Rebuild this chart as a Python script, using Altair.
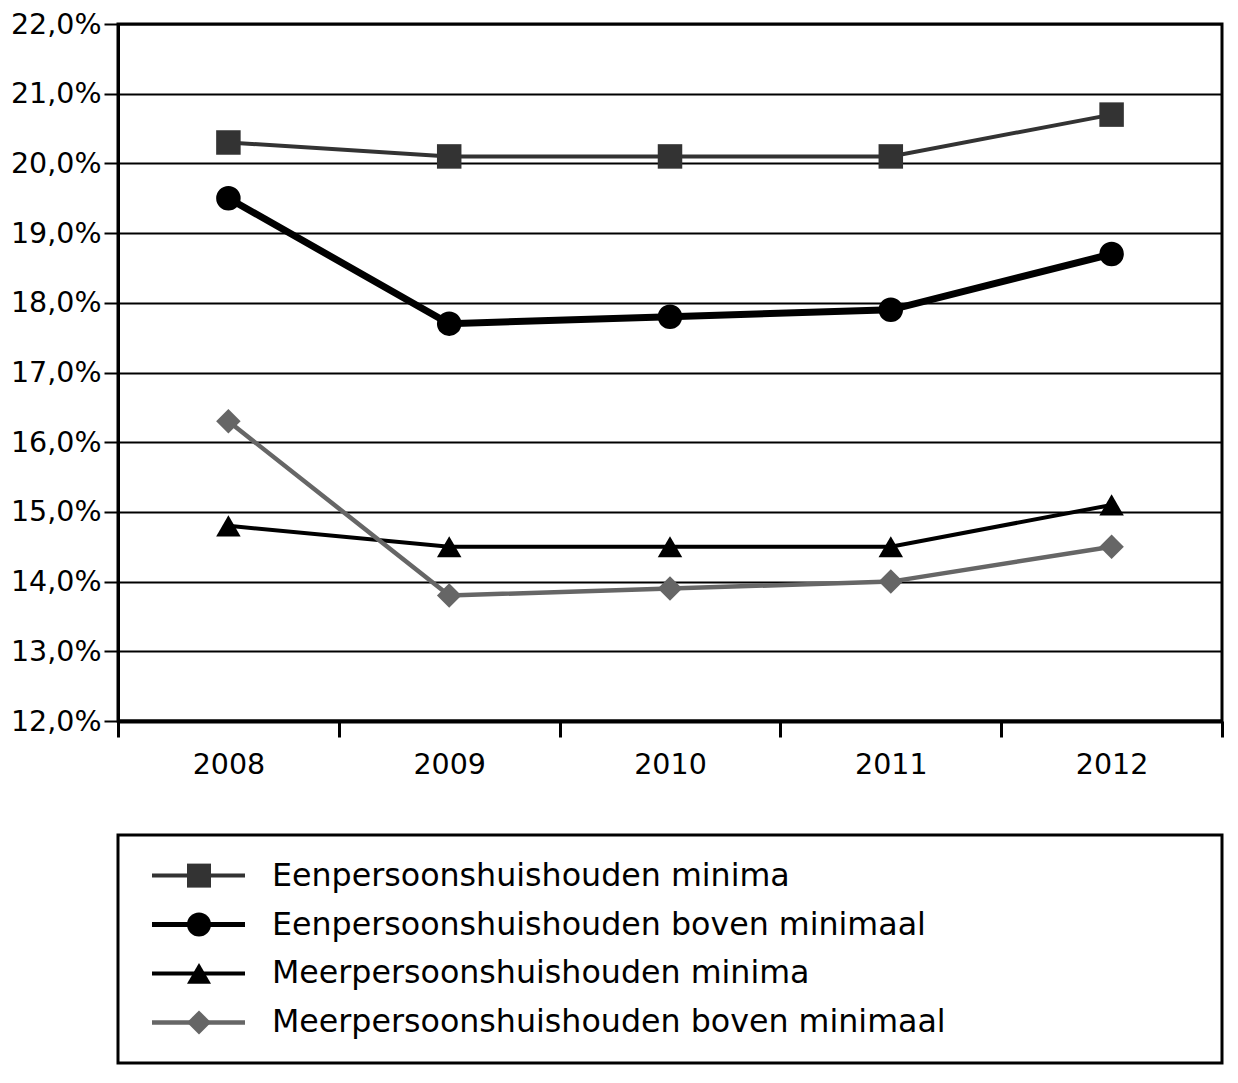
import altair as alt
import pandas as pd

years = ["2008", "2009", "2010", "2011", "2012"]
series = [
    "Eenpersoonshuishouden minima",
    "Eenpersoonshuishouden boven minimaal",
    "Meerpersoonshuishouden minima",
    "Meerpersoonshuishouden boven minimaal",
]
s1 = [20.3, 20.1, 20.1, 20.1, 20.7]
s2 = [19.5, 17.7, 17.8, 17.9, 18.7]
s3 = [14.8, 14.5, 14.5, 14.5, 15.1]
s4 = [16.3, 13.8, 13.9, 14.0, 14.5]
y_ticks = [12, 13, 14, 15, 16, 17, 18, 19, 20, 21, 22]

colors = ["#333333", "#000000", "#000000", "#666666"]
shapes = ["square", "circle", "triangle-up", "diamond"]
widths = [4, 7, 4, 4.5]

FONT = "DejaVu Sans"

all_vals = [s1, s2, s3, s4]

x_enc = alt.X(
    "year:O",
    bandPosition=0.5,
    scale=alt.Scale(type="band", paddingInner=0, paddingOuter=0, domain=years),
    axis=alt.Axis(
        title=None, labelAngle=0, tickBand="extent", tickSize=16, tickWidth=3,
        tickColor="black", domainColor="black", domainWidth=4, labelFontSize=28.5,
        labelPadding=13, labelFont=FONT, labelColor="black", grid=False,
    ),
)
y_enc = alt.Y(
    "value:Q",
    scale=alt.Scale(domain=[12, 22], nice=False, zero=False),
    axis=alt.Axis(
        title=None, values=y_ticks,
        labelExpr="replace(format(datum.value, '.1f'), '.', ',') + '%'",
        tickSize=14, tickWidth=2, tickColor="black", domainColor="black", domainWidth=3,
        grid=True, gridColor="black", gridWidth=2, gridOpacity=1,
        labelFontSize=28.5, labelPadding=3, labelFont=FONT, labelColor="black",
    ),
)

main_layers = []
for name, vals, col, shp, w in zip(series, all_vals, colors, shapes, widths):
    d = pd.DataFrame({"year": years, "value": vals, "series": name})
    b = alt.Chart(d).encode(x=x_enc, y=y_enc)
    main_layers.append(b.mark_line(color=col, strokeWidth=w))
    main_layers.append(
        b.mark_point(filled=True, size=600, opacity=1, strokeWidth=0, color=col, shape=shp)
    )
main = alt.layer(*main_layers).properties(width=1104, height=697)

leg_y = alt.Y("series:N", scale=alt.Scale(type="point", domain=series, padding=0.83), axis=None)
leg_layers = []
for name, col, shp, w in zip(series, colors, shapes, widths):
    d = pd.DataFrame({"series": [name]})
    b = alt.Chart(d).encode(y=leg_y)
    leg_layers.append(
        b.mark_rule(color=col, strokeWidth=min(w, 5)).encode(x=alt.value(34), x2=alt.value(127))
    )
    leg_layers.append(
        b.mark_point(filled=True, size=576, opacity=1, strokeWidth=0, color=col, shape=shp).encode(
            x=alt.value(81)
        )
    )
leg_txt = alt.Chart(pd.DataFrame({"series": series})).mark_text(
    align="left", baseline="middle", fontSize=31.7, font=FONT, color="black"
).encode(x=alt.value(154), y=leg_y, text="series:N")
legend = alt.layer(*leg_layers, leg_txt).properties(width=1104, height=228)

chart = (
    alt.vconcat(main, legend, spacing=53)
    .properties(padding={"left": 0, "top": 0, "right": 0, "bottom": 0}, background="white")
    .configure_view(stroke="black", strokeWidth=3)
)

chart.save("out.html", embed_options={"renderer": "svg", "actions": False})
